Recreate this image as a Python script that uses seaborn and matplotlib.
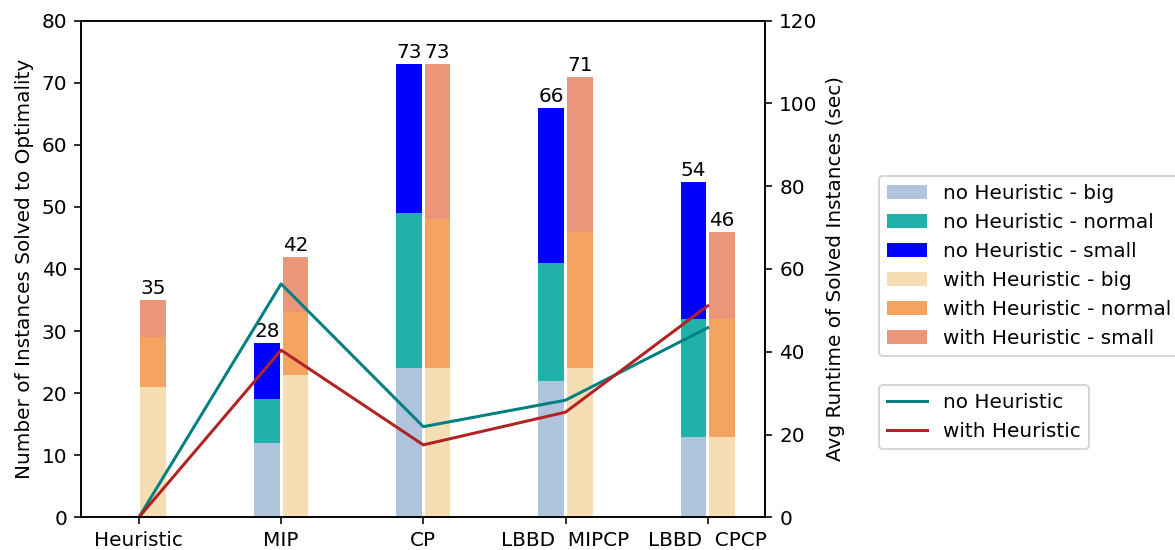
import matplotlib
matplotlib.use("Agg")
import matplotlib.pyplot as plt
from matplotlib.patches import Patch
from matplotlib.lines import Line2D
import numpy as np
import pandas as pd
import seaborn as sns

# Solution approaches on the x axis
methods = ["Heuristic", "MIP", "CP", "LBBD  MIPCP", "LBBD  CPCP"]
variants = ["no Heuristic", "with Heuristic"]

# Instances solved to optimality, split by instance size
no_heur_big = [0, 12, 24, 22, 13]
no_heur_normal = [0, 7, 25, 19, 19]
no_heur_small = [0, 9, 24, 25, 22]
with_heur_big = [21, 23, 24, 24, 13]
with_heur_normal = [8, 10, 24, 22, 19]
with_heur_small = [6, 9, 25, 25, 14]

# Average runtime of solved instances (sec)
runtime_no_heur = [0, 56.4, 21.9, 28.3, 45.8]
runtime_with_heur = [0, 40.4, 17.5, 25.4, 51.1]

colors = {
    "no Heuristic": ["lightsteelblue", "lightseagreen", "blue"],
    "with Heuristic": ["wheat", "sandybrown", "darksalmon"],
}
size_names = ["big", "normal", "small"]

# Cumulative stack heights per variant
stack = {
    "no Heuristic": np.cumsum([no_heur_big, no_heur_normal, no_heur_small], axis=0),
    "with Heuristic": np.cumsum([with_heur_big, with_heur_normal, with_heur_small], axis=0),
}

fig = plt.figure(figsize=(1175 / 144, 550 / 144), dpi=144)
ax = fig.add_axes([81.3 / 1175, 1 - 517.3 / 550, (765.3 - 81.3) / 1175, (517.3 - 20.7) / 550])

# Draw the stacks from the top layer down so lower segments sit in front
for level in [2, 1, 0]:
    rows = []
    for v in variants:
        for m, val in zip(methods, stack[v][level]):
            rows.append({"method": m, "variant": v, "count": val})
    df = pd.DataFrame(rows)
    sns.barplot(
        data=df, x="method", y="count", hue="variant",
        order=methods, hue_order=variants,
        palette={v: colors[v][level] for v in variants},
        width=0.4, gap=0.1, saturation=1, errorbar=None,
        linewidth=0, legend=False, ax=ax,
    )

# Total labels above the stacks
for container, v in zip(ax.containers[:2], variants):
    totals = stack[v][2]
    ax.bar_label(container, labels=["" if t == 0 else f"{int(t)}" for t in totals],
                 padding=1, fontsize=10)

ax.set_ylim(0, 80)
ax.set_xlim(-0.405, 4.405)
ax.set_xlabel("")
ax.set_ylabel("Number of Instances Solved to Optimality")

ax2 = ax.twinx()
pos = np.arange(len(methods))
sns.lineplot(x=pos, y=runtime_no_heur, color="teal", linewidth=1.5, ax=ax2, legend=False)
sns.lineplot(x=pos, y=runtime_with_heur, color="firebrick", linewidth=1.5, ax=ax2, legend=False)
ax2.set_ylim(0, 120)
ax2.set_xlim(-0.405, 4.405)
ax2.set_ylabel("Avg Runtime of Solved Instances (sec)")

bar_handles = [Patch(facecolor=colors[v][i], label=f"{v} - {size_names[i]}")
               for v in variants for i in range(3)]
line_handles = [Line2D([], [], color="teal", linewidth=1.5, label="no Heuristic"),
                Line2D([], [], color="firebrick", linewidth=1.5, label="with Heuristic")]

fig.legend(handles=bar_handles, loc="upper left",
           bbox_to_anchor=(879 / 1175, 1 - 176 / 550), borderaxespad=0)
fig.legend(handles=line_handles, loc="upper left",
           bbox_to_anchor=(879 / 1175, 1 - 385 / 550), borderaxespad=0)

fig.savefig("out.png", dpi=144)
